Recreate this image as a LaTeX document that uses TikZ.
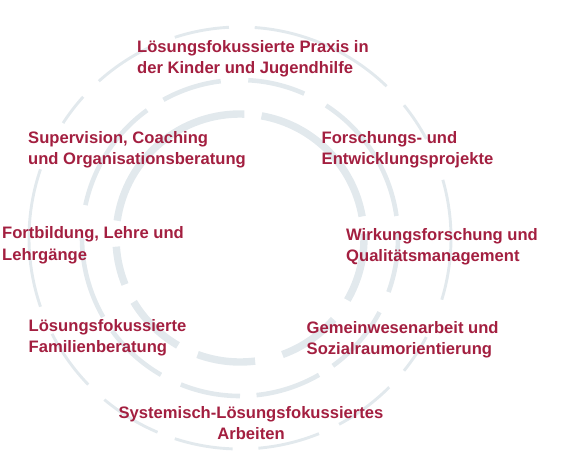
\documentclass[tikz,border=0pt]{standalone}
\usepackage{fontspec}
\setmainfont{Liberation Sans}
\definecolor{ringgrey}{RGB}{226,233,237}
\definecolor{wine}{RGB}{163,31,64}
\tikzset{
  field/.style={text=wine,font=\bfseries\fontsize{16.6}{21.3}\selectfont,align=left,anchor=base west,inner sep=0pt},
  ring in/.style={draw=ringgrey,line width=7.4pt},
  ring mid/.style={draw=ringgrey,line width=4.6pt},
  ring out/.style={draw=ringgrey,line width=2.9pt}
}
\begin{document}
\begin{tikzpicture}[x=1pt,y=-1pt]
	\useasboundingbox (0,0) rectangle (580,470);
	\coordinate (M) at (240,238);
	\foreach \a/\b in {10/80,88/172,184/202,211/240,250/277,290/319,330/362}
		\draw[ring in] ([shift={(\a:124pt)}]M) arc (\a:\b:124pt);
	\foreach \a/\b in {8/57,66/87,97/119,126/168,180/210,216/240,248/270,276/300,306/332,340/362}
		\draw[ring mid] ([shift={(\a:158pt)}]M) arc (\a:\b:158pt);
	\foreach \a/\b in {343/376,28/39,46/86,93/108,115/132,138/147,161/199,207/224,230/247,252/268,275/292,298/315,321/332}
		\draw[ring out] ([shift={(\a:211pt)}]M) arc (\a:\b:211pt);
	\node[field] (praxis) at (137,74) {Lösungsfokussierte Praxis in\\der Kinder und Jugendhilfe};
	\node[field] (supervision) at (28,164.5) {Supervision, Coaching\\und Organisationsberatung};
	\node[field] (forschung) at (321.5,164.5) {Forschungs- und\\Entwicklungsprojekte};
	\node[field] (fortbildung) at (2,260) {Fortbildung, Lehre und\\Lehrgänge};
	\node[field] (wirkung) at (346,261.5) {Wirkungsforschung und\\Qualitätsmanagement};
	\node[field] (familie) at (28.5,352.5) {Lösungsfokussierte\\Familienberatung};
	\node[field] (gemeinwesen) at (306.5,354.5) {Gemeinwesenarbeit und\\Sozialraumorientierung};
	\node[field,align=center,anchor=base] (arbeiten) at (251,439.5) {Systemisch-Lösungsfokussiertes\\Arbeiten};
\end{tikzpicture}
\end{document}
